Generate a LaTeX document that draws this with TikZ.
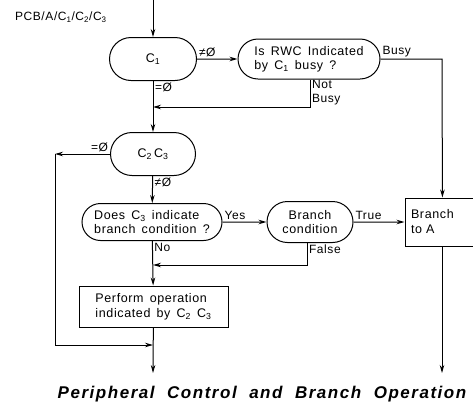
\documentclass[tikz,border=0pt]{standalone}
\usepackage{fontspec}
\setmainfont{Liberation Sans}[LetterSpace=5,WordSpace=1.5]
\newfontfamily\capfont{Liberation Sans}[LetterSpace=9,WordSpace=2]
\usetikzlibrary{shapes.misc,arrows.meta}

\begin{document}
\begin{tikzpicture}[x=1pt,y=-1pt,
    line width=1pt,
    arr/.style={-{Stealth[length=8pt,width=4.5pt]}},
    term/.style={draw,rounded rectangle,inner sep=0pt,align=left,font=\fontsize{12.5}{14}\selectfont},
    opbox/.style={draw,rectangle,inner sep=0pt,align=left,font=\fontsize{12.5}{15}\selectfont},
    lbl/.style={inner sep=1.5pt,font=\fontsize{12}{13.5}\selectfont}]
  \useasboundingbox (0,0) rectangle (473,410);

  % entry
  \node[lbl,anchor=west] (pcb) at (13,17) {PCB/A/C\textsubscript{1}/C\textsubscript{2}/C\textsubscript{3}};
  \coordinate (in) at (153,0);

  % boxes
  \node[term,minimum width=87,minimum height=43] (c1) at (153,59) {C\textsubscript{1}};
  \node[term,minimum width=142,minimum height=40] (rwc) at (309,59) {Is RWC Indicated\\by C\textsubscript{1} busy ?};
  \node[term,minimum width=85,minimum height=43] (c23) at (153,154) {C\textsubscript{2}\,C\textsubscript{3}};
  \node[term,minimum width=140,minimum height=37] (does) at (152,222) {Does C\textsubscript{3} indicate\\branch condition ?};
  \node[term,align=center,minimum width=86,minimum height=41] (bcond) at (310,222) {Branch\\condition};
  \node[opbox,minimum width=75,minimum height=48,text width=63] (bra) at (442.5,222) {Branch\\to A};
  \node[opbox,minimum width=149,minimum height=41] (perf) at (153.5,306.5) {Perform operation\\indicated by C\textsubscript{2} C\textsubscript{3}};

  % bends and ends
  \coordinate (busy) at (442,59);
  \coordinate (nb) at (310,107);
  \coordinate (j1) at (153,107);
  \coordinate (l1) at (55,154);
  \coordinate (l2) at (55,345);
  \coordinate (j3) at (153,345);
  \coordinate (fb) at (307,265);
  \coordinate (j2) at (153,265);
  \coordinate (out) at (153,373);
  \coordinate (braout) at (442,373);

  % connectors
  \draw[arr] (in) -- (c1);
  \draw[arr] (c1) -- node[lbl,pos=0,anchor=south west] {≠Ø} (rwc);
  \draw[arr] (rwc.east) -- node[lbl,pos=0,anchor=south west] {Busy} (busy) -- (bra);
  \draw[arr] (rwc.south -| nb) -- node[lbl,pos=0,anchor=north west,align=left,inner ysep=0.5pt] {Not\\Busy} (nb) -- (j1);
  \draw[arr] (c1) -- node[lbl,pos=0,anchor=north west] {=Ø} (c23);
  \draw[arr] (c23) -- node[lbl,pos=0,anchor=south east] {=Ø} (l1);
  \draw[arr] (l1) -- (l2) -- (j3);
  \draw[arr] (c23) -- node[lbl,pos=0,anchor=north west] {≠Ø} (does);
  \draw[arr] (does) -- node[lbl,pos=0,anchor=south west] {Yes} (bcond);
  \draw[arr] (bcond) -- node[lbl,pos=0,anchor=south west] {True} (bra);
  \draw[arr] (bcond.south -| fb) -- node[lbl,pos=0,anchor=north west] {False} (fb) -- (j2);
  \draw[arr] (does) -- node[lbl,pos=0,anchor=north west] {No} (perf);
  \draw[arr] (perf) -- (out);
  \draw[arr] (bra.south -| braout) -- (braout);

  % caption
  \node[font=\capfont\bfseries\itshape\fontsize{17}{19}\selectfont] (cap) at (262,394) {Peripheral Control and Branch Operation};
\end{tikzpicture}
\end{document}
